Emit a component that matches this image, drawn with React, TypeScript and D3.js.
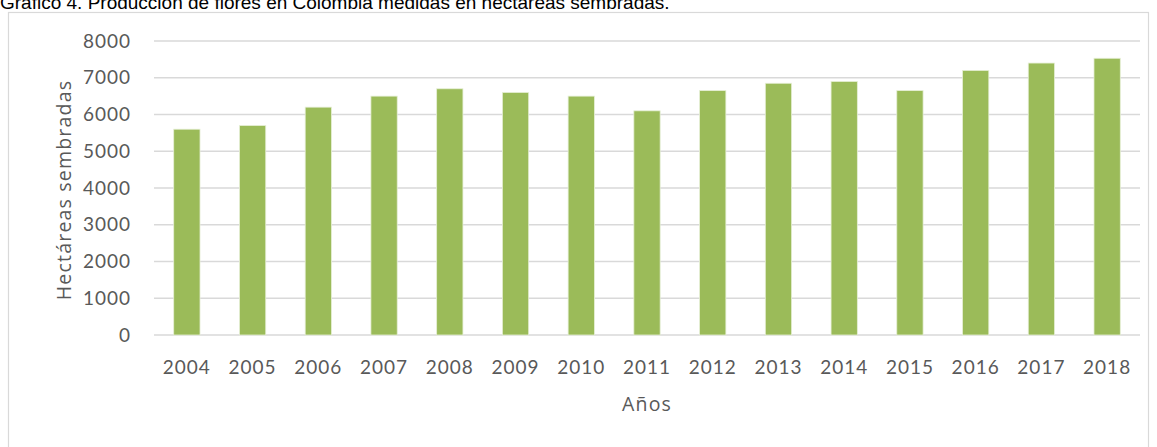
import React from "react";
import * as d3 from "d3";

const years = ["2004","2005","2006","2007","2008","2009","2010","2011","2012","2013","2014","2015","2016","2017","2018"];
const hectareas = [5600,5700,6200,6500,6700,6600,6500,6100,6650,6850,6900,6650,7200,7400,7530];
const yTicks = [0,1000,2000,3000,4000,5000,6000,7000,8000];

const W = 1157, H = 447;
const plot = { left: 154, right: 1140, top: 41, bottom: 335 };
const tickFont = "Lato, 'Open Sans', sans-serif";
const titleFont = "'Open Sans', Lato, sans-serif";

export default function App() {
  const x = d3.scaleBand<string>().domain(years).range([plot.left, plot.right]).paddingInner(0.6).paddingOuter(0.3);
  const y = d3.scaleLinear().domain([0, 8000]).range([plot.bottom, plot.top]);
  return (
    <>
      <style>{"body{margin:0}"}</style>
      <svg width={W} height={H} style={{ display: "block", background: "#fff" }}>
        <text x={0} y={9} fontFamily="'Liberation Sans', Arial, sans-serif" fontSize={19} fill="#000">
          Gráfico 4. Producción de flores en Colombia medidas en hectáreas sembradas.
        </text>
        <rect x={8.5} y={12.5} width={1140} height={450} fill="#fff" stroke="#d9d9d9" strokeWidth={1.2} />
        {yTicks.map(t => (
          <g key={t}>
            <line x1={plot.left} x2={plot.right} y1={y(t)} y2={y(t)} stroke="#d9d9d9" strokeWidth={1.5} />
            <text x={131} y={y(t)} dy="0.35em" textAnchor="end" fontFamily={tickFont} fontSize={19} letterSpacing={1} fill="#595959">{t}</text>
          </g>
        ))}
        {years.map((yr, i) => (
          <g key={yr}>
            <rect x={x(yr)} y={y(hectareas[i])} width={x.bandwidth()} height={y(0) - y(hectareas[i])} fill="#9BBB59" stroke="#e6efd6" strokeWidth={0.8} />
            <text x={(x(yr) as number) + x.bandwidth() / 2} y={367} dy="0.35em" textAnchor="middle" fontFamily={tickFont} fontSize={19} letterSpacing={1} fill="#595959">{yr}</text>
          </g>
        ))}
        <text transform="translate(64,190) rotate(-90)" textAnchor="middle" dy="0.35em" fontFamily={titleFont} fontSize={19.5} letterSpacing={1.2} fill="#595959">Hectáreas sembradas</text>
        <text x={647} y={404} dy="0.35em" textAnchor="middle" fontFamily={titleFont} fontSize={19.5} letterSpacing={1.2} fill="#595959">Años</text>
      </svg>
    </>
  );
}
